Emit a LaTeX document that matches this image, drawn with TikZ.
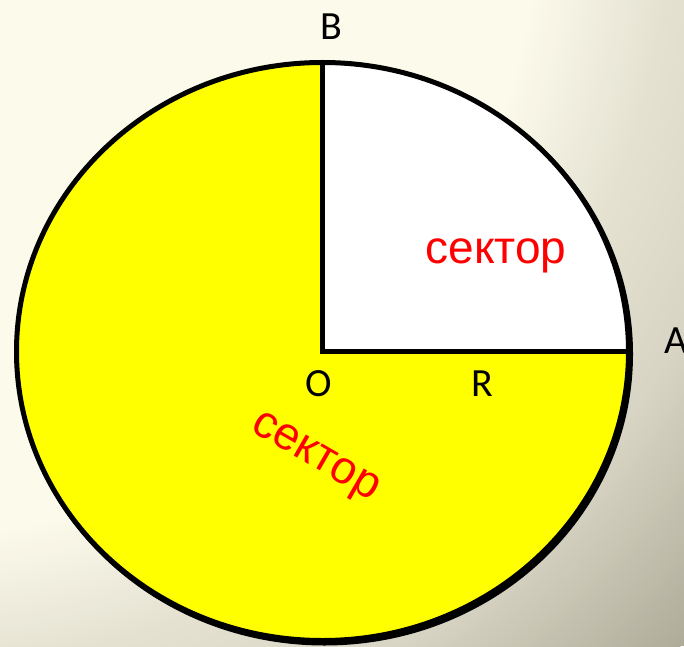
\documentclass[tikz,border=0pt]{standalone}
\usepackage{fontspec}
\setmainfont{Carlito}
\newfontfamily\arialfont{Liberation Sans}
\usetikzlibrary{calc}
\definecolor{bgA}{HTML}{FCFAEB}
\definecolor{bgB}{HTML}{E5E2D2}
\definecolor{bgC}{HTML}{D8D5C5}
\definecolor{bgD}{HTML}{B0AC9A}
\definecolor{sunyellow}{HTML}{FFFF00}
\begin{document}
\begin{tikzpicture}[x=1pt,y=1pt,
  lbl/.style={font=\fontsize{40}{40}\selectfont, text=black, inner sep=0pt},
  sect/.style={font=\arialfont\fontsize{46}{46}\selectfont, text=red, inner sep=0pt},
  rim/.style={line width=5pt, draw=black, line join=miter}]
\useasboundingbox (0,0) rectangle (684,646);
% background
\begin{scope}
\clip (0,0) rectangle (684,646);
\fill[bgD] (0,0) rectangle (684,646);
\foreach \r in {1080,1075,...,900}{
  \pgfmathsetmacro\p{(\r-895)/1.87}
  \fill[bgD!\p!bgC] (-100,746) circle[radius=\r];
}
\foreach \r in {895,890,...,775}{
  \pgfmathsetmacro\p{(\r-770)/1.25}
  \fill[bgC!\p!bgB] (-100,746) circle[radius=\r];
}
\foreach \r in {770,765,...,645}{
  \pgfmathsetmacro\p{(\r-640)/1.30}
  \fill[bgB!\p!bgA] (-100,746) circle[radius=\r];
}
\fill[bgA] (-100,746) circle[radius=640];
\end{scope}
% circle
\coordinate (O) at (322.5,294.5);
\coordinate (A) at ($(O)+(306,0)$);
\coordinate (B) at ($(O)+(0,289)$);
\draw[rim] ([shift={(2,-2.5)}]O) ellipse[x radius=306, y radius=289];
\fill[sunyellow] (O) ellipse[x radius=306, y radius=289];
\fill[white] (O) -- (A) arc[start angle=0, end angle=90, x radius=306, y radius=289] -- cycle;
\draw[rim] (O) ellipse[x radius=306, y radius=289];
\draw[rim] (B) -- (O) -- (A);
% labels
\node[lbl] (lB) at (331,619) {B};
\node[lbl] (lO) at (319,262) {O};
\node[lbl] (lR) at (482,262) {R};
\node[lbl, anchor=west] (lA) at (664,305) {A};
\node[sect, anchor=base] (s1) at (496,383) {сектор};
\node[sect, rotate=-30] (s2) at (314,187) {сектор};
\end{tikzpicture}
\end{document}
